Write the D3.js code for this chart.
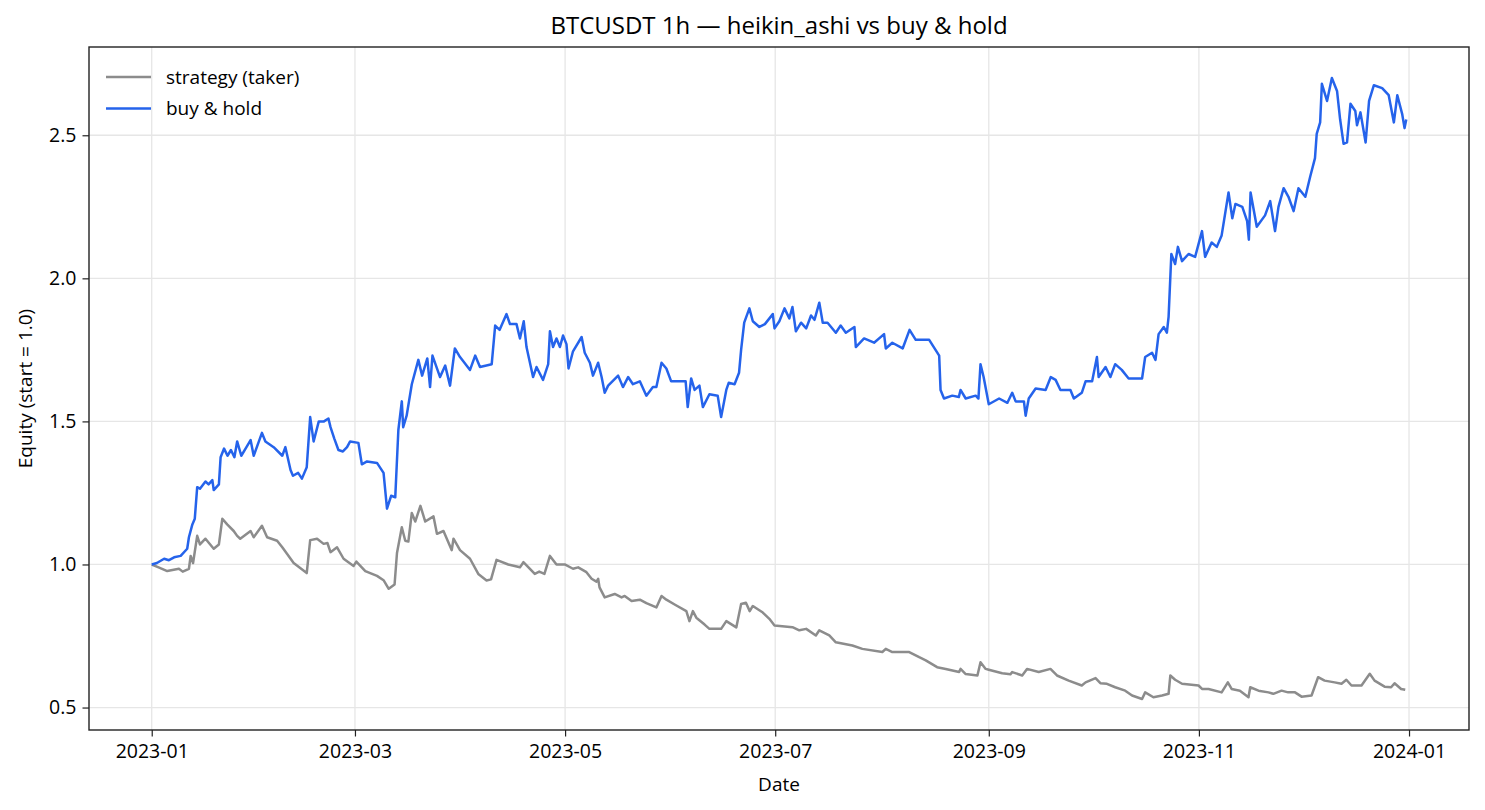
<!DOCTYPE html>
<html>
<head>
<meta charset="utf-8">
<script src="https://cdn.jsdelivr.net/npm/d3@7"></script>
<style>
  body { margin: 0; background: #fff; }
  svg text { font-family: "Open Sans", "Noto Sans", sans-serif; fill: #000; }
</style>
</head>
<body>
<script>
// equity curves
// x = days since 2023-01-01 00:00 UTC, y = equity (start = 1.0)

var bhDays = [0,1.5,3.6,5,6.5,8.4,10.3,10.8,11.8,12.5,13.2,14,15.6,16.5,17.6,18,19.5,20,21,22,23,24,24.8,26,27.5,28.7,29.6,32,33,35.4,37.9,38.8,40.3,41,42.5,43.6,45,46,47,48.5,50,51.3,51.9,53,54.2,55.5,56.7,57.6,60,61,62.5,65.4,67.3,68.3,69.5,70.7,71.6,72.6,73,74,75.5,77.4,78.5,80,80.8,81.5,83.7,85.2,86.6,88,89.5,92.4,93.9,95.3,98.7,99.7,101,103,104,105.9,106.9,108,108.8,110.7,111.7,113.6,115.1,115.6,116.5,117.5,118.5,119.4,120.4,121,122.3,124.8,125.7,127.2,128.1,129.6,130.6,131.5,132.5,135.4,136.8,138.3,139.7,141.7,143.6,145.5,146.5,148,149.4,150.8,152.8,155,155.6,156.6,157.6,159,160,161.9,164.3,165.3,166.8,167.5,169.2,170.5,171.1,172,173.5,174.5,176.4,178,180.3,180.8,182.2,183.7,185.1,186,187,188.5,190,191.4,192.4,193.8,194.8,196.2,198.6,200,201.5,204,204.4,206.8,209.7,212.6,213.1,215,218,220,221.8,225.7,228.6,229,230,232.4,234.3,234.8,236.3,239.2,240,240.6,241.5,243,246,248.4,249.8,250.8,253.2,253.7,254.6,256.6,259.5,261,262.4,263.8,266.7,267.7,270,271.1,273,274.4,274.9,276.9,278.3,279.7,281.6,283.6,287.5,288.4,290.4,291.4,292.3,293.8,294.7,295.2,296,297.1,297.9,299.1,301,302.9,304.9,305.8,307.7,309.2,310.6,312.6,313.7,314.6,316.6,318,318.5,319,320.8,323.2,324.7,326.1,327.1,328.6,330,331.5,332.9,334.9,336.3,337.7,338.2,339.2,339.7,341.2,342.6,344.1,345,346,347,348,349.4,349.9,350.9,352.4,353.4,354.8,357.2,359.1,360.6,361.6,363,363.7,364.2];
var bhEquity = [1.00,1.005,1.02,1.015,1.025,1.03,1.055,1.095,1.14,1.16,1.27,1.265,1.29,1.28,1.295,1.26,1.28,1.375,1.405,1.38,1.40,1.375,1.43,1.38,1.41,1.435,1.38,1.46,1.43,1.41,1.38,1.41,1.33,1.31,1.32,1.30,1.34,1.515,1.43,1.50,1.50,1.51,1.48,1.44,1.40,1.395,1.41,1.43,1.425,1.35,1.36,1.355,1.32,1.195,1.24,1.235,1.47,1.57,1.48,1.52,1.63,1.715,1.66,1.72,1.62,1.73,1.655,1.695,1.625,1.755,1.725,1.68,1.73,1.69,1.70,1.835,1.82,1.875,1.84,1.84,1.79,1.85,1.76,1.655,1.69,1.645,1.70,1.815,1.76,1.79,1.76,1.80,1.77,1.685,1.745,1.795,1.74,1.705,1.66,1.705,1.655,1.60,1.625,1.66,1.62,1.655,1.63,1.64,1.59,1.62,1.62,1.705,1.685,1.64,1.64,1.64,1.55,1.65,1.61,1.625,1.55,1.595,1.59,1.515,1.61,1.635,1.63,1.67,1.75,1.845,1.895,1.85,1.83,1.84,1.875,1.825,1.85,1.895,1.86,1.90,1.815,1.845,1.825,1.87,1.855,1.915,1.845,1.845,1.81,1.835,1.81,1.83,1.76,1.79,1.775,1.805,1.755,1.775,1.755,1.82,1.785,1.785,1.73,1.61,1.58,1.59,1.585,1.61,1.58,1.59,1.58,1.70,1.655,1.56,1.58,1.565,1.60,1.57,1.57,1.52,1.58,1.615,1.61,1.655,1.645,1.61,1.61,1.58,1.60,1.64,1.64,1.725,1.655,1.69,1.655,1.70,1.68,1.65,1.65,1.725,1.74,1.715,1.805,1.83,1.81,1.865,2.085,2.05,2.11,2.06,2.085,2.075,2.165,2.075,2.125,2.11,2.15,2.30,2.21,2.26,2.25,2.20,2.135,2.30,2.18,2.22,2.27,2.165,2.25,2.315,2.285,2.235,2.315,2.285,2.355,2.42,2.505,2.545,2.68,2.62,2.70,2.655,2.555,2.47,2.475,2.61,2.585,2.535,2.58,2.475,2.62,2.675,2.665,2.64,2.545,2.64,2.575,2.525,2.555];

var stratDays = [0,2,4.5,7.9,9,10.8,11.3,12,13.2,14,15.6,18,19.5,20.5,21.9,23.8,24.8,25.7,28.7,29.6,32,33.5,36.4,37.9,41.2,45,46,48,49.9,51,51.9,53.8,55.7,58.6,59.4,62,65.4,67.3,68.8,70.5,71.2,72.6,73.6,74.5,75.5,76.5,78,79.4,81.8,82.8,84.7,87.1,87.6,89.5,92.4,94.8,97.2,98.5,100.1,103.5,106.9,107.9,111.2,112.5,114,115.6,117.5,119.9,122.3,123.8,126.2,127.7,129.1,129.6,130,131.5,134.4,136.4,137.3,139.3,141.7,143.6,146.5,148,149.4,151.8,155.2,156.1,157.1,158.1,160.5,161.9,165.3,166.8,169.7,171.1,172.5,173.6,174.5,177.4,179.3,180.8,186,188,190,192.8,193.8,196.7,198.6,203.4,206.3,212.1,213.1,215,219.9,222.8,224.7,228,230.5,234.4,234.8,236.3,239.7,240.6,242.1,243,246.9,249.3,249.8,252.7,254.1,257.5,260.9,262.8,266.2,270,271.1,274,275.4,277.3,279.7,282.6,284.6,287.5,288.4,290.8,293.3,295.2,295.7,297.1,299.1,303.9,304.9,306.8,310.6,312.4,313.5,315.9,318.4,318.9,321.3,324.2,325.6,328,329.9,331.9,333.8,336.7,338.6,340.5,343.4,345.4,346.8,348.3,351.2,353.6,355,357.9,359.8,360.8,362.7,363.9];
var stratEquity = [1.0,0.99,0.977,0.985,0.975,0.985,1.03,1.005,1.10,1.07,1.09,1.055,1.07,1.16,1.14,1.117,1.10,1.09,1.117,1.095,1.135,1.095,1.083,1.06,1.005,0.97,1.085,1.09,1.072,1.075,1.043,1.06,1.02,0.995,1.01,0.977,0.96,0.945,0.915,0.93,1.04,1.13,1.083,1.08,1.18,1.15,1.205,1.15,1.168,1.107,1.117,1.05,1.09,1.05,1.02,0.967,0.944,0.948,1.016,1.0,0.99,1.008,0.967,0.975,0.967,1.03,1.0,1.0,0.985,0.99,0.973,0.95,0.94,0.95,0.92,0.885,0.897,0.885,0.89,0.872,0.877,0.865,0.85,0.89,0.877,0.86,0.837,0.802,0.837,0.814,0.79,0.775,0.775,0.802,0.78,0.862,0.866,0.837,0.855,0.832,0.81,0.787,0.781,0.77,0.775,0.752,0.77,0.752,0.728,0.717,0.705,0.694,0.705,0.694,0.694,0.676,0.665,0.641,0.635,0.624,0.635,0.617,0.612,0.658,0.635,0.632,0.62,0.616,0.624,0.612,0.635,0.624,0.635,0.612,0.594,0.577,0.588,0.603,0.585,0.583,0.571,0.559,0.542,0.53,0.553,0.536,0.542,0.548,0.612,0.597,0.583,0.577,0.565,0.565,0.553,0.588,0.565,0.559,0.536,0.571,0.559,0.553,0.548,0.559,0.553,0.553,0.538,0.542,0.606,0.594,0.588,0.583,0.597,0.577,0.577,0.618,0.594,0.573,0.571,0.585,0.565,0.562];

var seriesNames = ["strategy (taker)", "buy & hold"];
var seriesColors = ["#8c8c8c", "#2563eb"];
var yTicks = [0.5, 1.0, 1.5, 2.0, 2.5];

var width = 1485, height = 810;
var margin = {top: 47, right: 16, bottom: 80, left: 89};
var start = Date.UTC(2023, 0, 1);
function toDate(d) { return new Date(start + d * 864e5); }

var strategy = stratDays.map(function(d, i) { return {date: toDate(d), value: stratEquity[i]}; });
var buyhold = bhDays.map(function(d, i) { return {date: toDate(d), value: bhEquity[i]}; });

var svg = d3.select("body")
  .append("svg")
  .attr("width", width)
  .attr("height", height);

// matplotlib-like 5% padding on the data range
var allDates = strategy.concat(buyhold).map(function(d) { return d.date; });
var allVals = strategy.concat(buyhold).map(function(d) { return d.value; });
var dx = d3.extent(allDates), dy = d3.extent(allVals);
var padX = (dx[1] - dx[0]) * 0.05, padY = (dy[1] - dy[0]) * 0.05;

var x = d3.scaleUtc()
  .domain([new Date(+dx[0] - padX), new Date(+dx[1] + padX)])
  .range([margin.left, width - margin.right]);

var y = d3.scaleLinear()
  .domain([dy[0] - padY, dy[1] + padY])
  .range([height - margin.bottom, margin.top]);

var xTicks = x.ticks(d3.utcMonth.every(2));

// grid
svg.append("g")
  .selectAll("line.vgrid")
  .data(xTicks)
  .enter().append("line")
  .attr("x1", function(d) { return x(d); })
  .attr("x2", function(d) { return x(d); })
  .attr("y1", margin.top)
  .attr("y2", height - margin.bottom)
  .style("stroke", "#e6e6e6")
  .style("stroke-width", 1.3);

svg.append("g")
  .selectAll("line.hgrid")
  .data(yTicks)
  .enter().append("line")
  .attr("x1", margin.left)
  .attr("x2", width - margin.right)
  .attr("y1", function(d) { return y(d); })
  .attr("y2", function(d) { return y(d); })
  .style("stroke", "#e6e6e6")
  .style("stroke-width", 1.3);

// lines
var line = d3.line()
  .x(function(d) { return x(d.date); })
  .y(function(d) { return y(d.value); });

[strategy, buyhold].forEach(function(s, i) {
  svg.append("path")
    .datum(s)
    .attr("d", line)
    .style("fill", "none")
    .style("stroke", seriesColors[i])
    .style("stroke-width", 2.5)
    .style("stroke-linejoin", "round");
});

// axes
var xAxis = svg.append("g")
  .attr("transform", "translate(0," + (height - margin.bottom) + ")")
  .call(d3.axisBottom(x).tickValues(xTicks).tickFormat(d3.utcFormat("%Y-%m")).tickSize(6.5).tickPadding(8));

var yAxis = svg.append("g")
  .attr("transform", "translate(" + margin.left + ",0)")
  .call(d3.axisLeft(y).tickValues(yTicks).tickFormat(d3.format(".1f")).tickSize(6.5).tickPadding(6));

[xAxis, yAxis].forEach(function(a) {
  a.select(".domain").remove();
  a.selectAll("line").style("stroke", "#222").style("stroke-width", 1.2);
  a.selectAll("text").style("font-size", "19.5px").style("font-family", "'Open Sans', 'Noto Sans', sans-serif");
});

// frame
svg.append("rect")
  .attr("x", margin.left)
  .attr("y", margin.top)
  .attr("width", width - margin.left - margin.right)
  .attr("height", height - margin.top - margin.bottom)
  .style("fill", "none")
  .style("stroke", "#222")
  .style("stroke-width", 1.4);

// titles
svg.append("text")
  .attr("x", (margin.left + width - margin.right) / 2)
  .attr("y", 34)
  .attr("text-anchor", "middle")
  .style("font-size", "24px")
  .text("BTCUSDT 1h \u2014 heikin_ashi vs buy & hold");

svg.append("text")
  .attr("x", (margin.left + width - margin.right) / 2)
  .attr("y", 791)
  .attr("text-anchor", "middle")
  .style("font-size", "19px")
  .text("Date");

svg.append("text")
  .attr("transform", "translate(32," + ((margin.top + height - margin.bottom) / 2) + ") rotate(-90)")
  .attr("text-anchor", "middle")
  .style("font-size", "19px")
  .text("Equity (start = 1.0)");

// legend
var legend = svg.append("g")
  .attr("transform", "translate(106,77)");

seriesNames.forEach(function(name, i) {
  legend.append("line")
    .attr("x1", 0)
    .attr("x2", 45)
    .attr("y1", i * 31.5)
    .attr("y2", i * 31.5)
    .style("stroke", seriesColors[i])
    .style("stroke-width", 2.5);
  legend.append("text")
    .attr("x", 60)
    .attr("y", i * 31.5)
    .attr("dy", "0.35em")
    .style("font-size", "19px")
    .text(name);
});
</script>
</body>
</html>
